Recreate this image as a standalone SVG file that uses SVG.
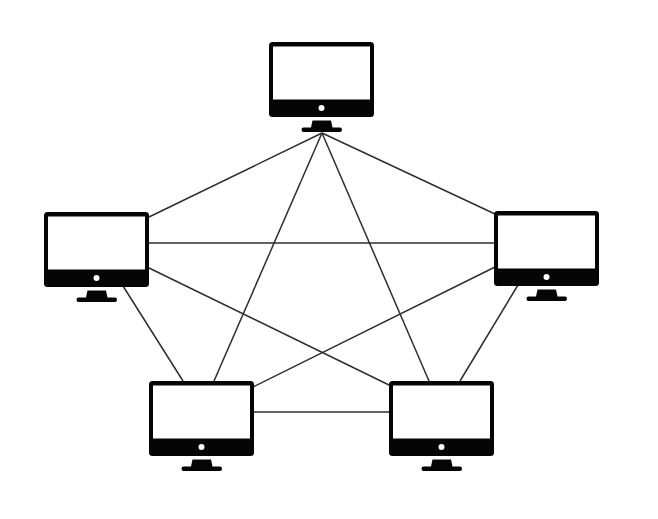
<svg xmlns="http://www.w3.org/2000/svg" width="658" height="519" viewBox="0 0 658 519">
<style>
.link{stroke:#2e2e2e;stroke-width:1.5;fill:none}
.k{fill:#050505}
.w{fill:#fff}
</style>
<defs>
<symbol id="monitor" width="106" height="92" viewBox="0 0 106 92" overflow="visible">
<rect class="k" x="0" y="0" width="105" height="75" rx="3.500"/>
<rect class="w" x="4" y="4.500" width="97" height="53"/>
<circle class="w" cx="52.500" cy="66" r="3"/>
<path class="k" d="M43.500 78.500H62L63.500 85.500H71Q73 85.500 73 87.700Q73 90 71 90H34.500Q32.500 90 32.500 87.700Q32.500 85.500 34.500 85.500H42Z"/>
</symbol>
</defs>
<rect width="658" height="519" fill="#fff"/>
<g id="connectors">
<line class="link" x1="322" y1="133" x2="149" y2="217"/>
<line class="link" x1="322" y1="133" x2="495" y2="214"/>
<line class="link" x1="322" y1="133" x2="214" y2="381"/>
<line class="link" x1="322" y1="133" x2="429" y2="381"/>
<line class="link" x1="149" y1="243" x2="495" y2="243"/>
<line class="link" x1="149" y1="268" x2="389" y2="385"/>
<line class="link" x1="123" y1="286" x2="183" y2="381"/>
<line class="link" x1="495" y1="267" x2="253" y2="387"/>
<line class="link" x1="518" y1="285" x2="460" y2="381"/>
<line class="link" x1="253" y1="412" x2="389" y2="412"/>
</g>
<g id="node-top"><use href="#monitor" x="269" y="42"/></g>
<g id="node-left"><use href="#monitor" x="44" y="212"/></g>
<g id="node-right"><use href="#monitor" x="494" y="211"/></g>
<g id="node-bottom-left"><use href="#monitor" x="149" y="381"/></g>
<g id="node-bottom-right"><use href="#monitor" x="389" y="381"/></g>
</svg>
